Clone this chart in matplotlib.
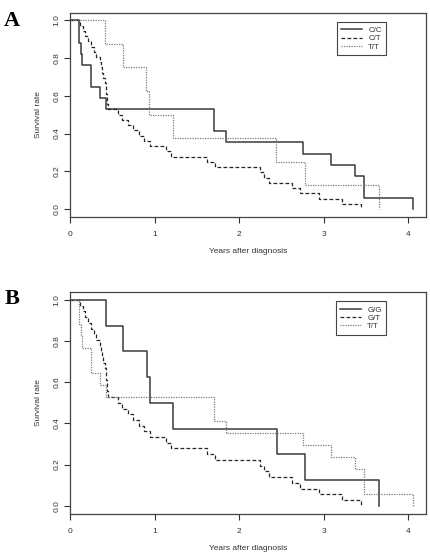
import matplotlib
matplotlib.use("Agg")
import matplotlib.pyplot as plt

plt.rcParams['font.family'] = ['Liberation Sans', 'DejaVu Sans']

# Panel A: genotype groups C/C, C/T, T/T (Kaplan-Meier steps)
a_cc_time = [0, 0.11, 0.13, 0.14, 0.25, 0.36, 0.43, 1.70, 1.84, 2.75, 3.09, 3.37, 3.48, 4.06]
a_cc_surv = [1.0, 0.882, 0.824, 0.765, 0.647, 0.588, 0.529, 0.412, 0.353, 0.294, 0.235, 0.176, 0.059, 0.0]

a_ct_time = [0, 0.12, 0.15, 0.18, 0.21, 0.25, 0.28, 0.31, 0.35, 0.37, 0.38, 0.39, 0.41, 0.42,
             0.43, 0.435, 0.44, 0.45, 0.57, 0.62, 0.68, 0.75, 0.82, 0.88, 0.95, 1.14, 1.19,
             1.62, 1.72, 2.25, 2.29, 2.35, 2.62, 2.72, 2.94, 3.22, 3.44]
a_ct_surv = [1.0, 0.972, 0.944, 0.917, 0.889, 0.861, 0.833, 0.806, 0.778, 0.750, 0.722, 0.694,
             0.667, 0.639, 0.611, 0.583, 0.556, 0.528, 0.500, 0.472, 0.444, 0.417, 0.389, 0.361,
             0.333, 0.306, 0.278, 0.250, 0.222, 0.194, 0.167, 0.139, 0.111, 0.083, 0.056, 0.028, 0.0]

a_tt_time = [0, 0.41, 0.63, 0.90, 0.94, 1.22, 2.44, 2.78, 3.65]
a_tt_surv = [1.0, 0.875, 0.75, 0.625, 0.5, 0.375, 0.25, 0.125, 0.0]

# Panel B: genotype groups G/G, G/T, T/T
b_gg_time = [0, 0.42, 0.63, 0.915, 0.95, 1.22, 2.45, 2.78, 3.66]
b_gg_surv = [1.0, 0.875, 0.75, 0.625, 0.5, 0.375, 0.25, 0.125, 0.0]

b_gt_time = [0, 0.12, 0.15, 0.18, 0.21, 0.25, 0.28, 0.31, 0.35, 0.37, 0.38, 0.39, 0.41, 0.42,
             0.43, 0.435, 0.44, 0.45, 0.57, 0.62, 0.68, 0.75, 0.82, 0.88, 0.95, 1.14, 1.19,
             1.62, 1.72, 2.25, 2.29, 2.35, 2.62, 2.72, 2.94, 3.22, 3.44]
b_gt_surv = [1.0, 0.972, 0.944, 0.917, 0.889, 0.861, 0.833, 0.806, 0.778, 0.750, 0.722, 0.694,
             0.667, 0.639, 0.611, 0.583, 0.556, 0.528, 0.500, 0.472, 0.444, 0.417, 0.389, 0.361,
             0.333, 0.306, 0.278, 0.250, 0.222, 0.194, 0.167, 0.139, 0.111, 0.083, 0.056, 0.028, 0.0]

b_tt_time = [0, 0.11, 0.13, 0.14, 0.25, 0.36, 0.43, 1.70, 1.84, 2.75, 3.09, 3.37, 3.48, 4.06]
b_tt_surv = [1.0, 0.882, 0.824, 0.765, 0.647, 0.588, 0.529, 0.412, 0.353, 0.294, 0.235, 0.176, 0.059, 0.0]

x_ticks = [0, 1, 2, 3, 4]
y_ticks = [0.0, 0.2, 0.4, 0.6, 0.8, 1.0]
y_ticklabels = ['0.0', '0.2', '0.4', '0.6', '0.8', '1.0']

styles = [
    dict(color='#3a3a3a', lw=1.1, ls='-'),
    dict(color='#262626', lw=0.9, ls=(0, (3, 1.8))),
    dict(color='#7a7a7a', lw=0.9, ls=(0, (1, 1))),
]

fig = plt.figure(figsize=(4.30, 5.58), dpi=100)
ax_a = fig.add_axes([0.1628, 0.6111, 0.8279, 0.3661])
ax_b = fig.add_axes([0.1628, 0.0783, 0.8279, 0.3989])


def draw_panel(ax, curves, labels, letter):
    for (t, s), st, lab in zip(curves, styles, labels):
        ax.step(t, s, where='post', label=lab, **st)
    ax.set_xlim(0, 4.21)
    ax.set_ylim(-0.042, 1.04)
    ax.set_xticks(x_ticks)
    ax.set_yticks(y_ticks)
    ax.set_yticklabels(y_ticklabels, rotation=90, va='center')
    ax.tick_params(axis='both', labelsize=6, colors='#333333', length=4, width=0.8, pad=6)
    ax.tick_params(axis='y', pad=3)
    for sp in ax.spines.values():
        sp.set_color('#444444')
        sp.set_linewidth(0.9)
    ax.set_xlabel('Years after diagnosis', fontsize=6, color='#333333', labelpad=7)
    ax.set_ylabel('Survival rate', fontsize=6, color='#333333', labelpad=8)
    leg = ax.legend(loc='upper right', bbox_to_anchor=(0.9, 0.975), fontsize=5.7,
                    frameon=True, fancybox=False, edgecolor='#444444', framealpha=1,
                    handlelength=2.6, handletextpad=0.8, borderpad=0.6, labelspacing=0.1)
    leg.get_frame().set_linewidth(0.8)
    for txt in leg.get_texts():
        txt.set_color('#333333')
    ax.text(-0.185, 1.01, letter, transform=ax.transAxes, fontsize=16, fontweight='bold',
            family='Liberation Serif', va='top', ha='left')


draw_panel(ax_a, [(a_cc_time, a_cc_surv), (a_ct_time, a_ct_surv), (a_tt_time, a_tt_surv)],
           ['C/C', 'C/T', 'T/T'], 'A')
draw_panel(ax_b, [(b_gg_time, b_gg_surv), (b_gt_time, b_gt_surv), (b_tt_time, b_tt_surv)],
           ['G/G', 'G/T', 'T/T'], 'B')

fig.savefig('out.png', dpi=100)
